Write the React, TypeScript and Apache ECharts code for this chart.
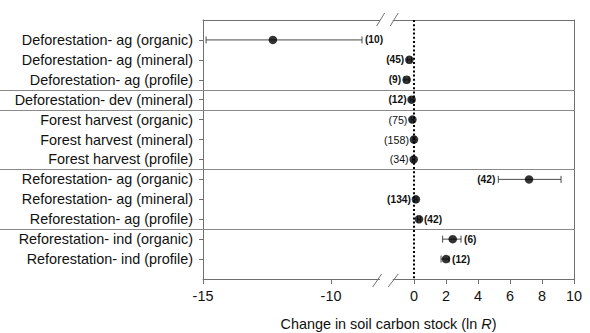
import React, { useEffect, useRef } from "react";
import * as echarts from "echarts";

const categories = [
  "Deforestation- ag (organic)",
  "Deforestation- ag (mineral)",
  "Deforestation- ag (profile)",
  "Deforestation- dev (mineral)",
  "Forest harvest (organic)",
  "Forest harvest (mineral)",
  "Forest harvest (profile)",
  "Reforestation- ag (organic)",
  "Reforestation- ag (mineral)",
  "Reforestation- ag (profile)",
  "Reforestation- ind (organic)",
  "Reforestation- ind (profile)",
];
const means = [-12.27, -0.29, -0.46, -0.15, -0.1, 0.0, -0.02, 7.19, 0.12, 0.31, 2.42, 2.0];
const lower = [-14.88, -0.42, -0.62, -0.24, -0.18, -0.06, -0.09, 5.27, 0.05, 0.22, 1.79, 1.69];
const upper = [-8.79, -0.16, -0.31, -0.06, -0.02, 0.06, 0.05, 9.19, 0.19, 0.4, 2.94, 2.19];
const counts = ["(10)", "(45)", "(9)", "(12)", "(75)", "(158)", "(34)", "(42)", "(134)", "(42)", "(6)", "(12)"];
const boldCount = [true, true, true, true, false, false, false, true, true, true, true, true];
const countSide = ["right", "left", "left", "left", "left", "left", "left", "left", "left", "right", "right", "right"];
const groupBreaks = [3.5, 4.5, 7.5, 10.5];
const leftTicks = [-15, -10];
const rightTicks = [0, 2, 4, 6, 8, 10];
const rowValues = categories.map((_, i) => i + 1);

const LEFT_MIN = -15;
const LEFT_MAX = -8.1;
const RIGHT_MIN = -1.3;
const RIGHT_MAX = 10;
const FONT = "'Liberation Sans', Arial, sans-serif";
const AXIS_COLOR = "#707070";

export default function App() {
  const ref = useRef<HTMLDivElement>(null);
  useEffect(() => {
    if (!ref.current) return;
    const chart = echarts.init(ref.current, undefined, { renderer: "svg" });

    const gridOf = (i: number) => (means[i] < -5 ? 0 : 1);
    const idxs = categories.map((_, i) => i);
    const scatterData = (g: number) =>
      idxs.filter((i) => gridOf(i) === g).map((i) => [means[i], i + 1]);
    const barData = (g: number) =>
      idxs.filter((i) => gridOf(i) === g).map((i) => [lower[i], upper[i], i + 1, i, means[i]]);

    const renderItem = (params: any, api: any) => {
      const lo = api.value(0);
      const hi = api.value(1);
      const row = api.value(2);
      const idx = api.value(3);
      const m = api.value(4);
      const pLo = api.coord([lo, row]);
      const pHi = api.coord([hi, row]);
      const pM = api.coord([m, row]);
      const cap = 3.5;
      const stroke = { stroke: "#4a4a4a", lineWidth: 1 };
      let tx: number;
      let align: string;
      if (countSide[idx] === "left") {
        tx = Math.min(pLo[0] - 3, pM[0] - 5);
        align = "right";
      } else {
        tx = Math.max(pHi[0] + 3, pM[0] + 5);
        align = "left";
      }
      return {
        type: "group",
        children: [
          { type: "line", shape: { x1: pLo[0], y1: pLo[1], x2: pHi[0], y2: pHi[1] }, style: stroke },
          { type: "line", shape: { x1: pLo[0], y1: pLo[1] - cap, x2: pLo[0], y2: pLo[1] + cap }, style: stroke },
          { type: "line", shape: { x1: pHi[0], y1: pHi[1] - cap, x2: pHi[0], y2: pHi[1] + cap }, style: stroke },
          {
            type: "text",
            style: {
              text: counts[idx],
              x: tx,
              y: pM[1],
              align,
              verticalAlign: "middle",
              fontSize: boldCount[idx] ? 10.2 : 10.7,
              fontWeight: boldCount[idx] ? "bold" : "normal",
              fontFamily: FONT,
              fill: "#111",
            },
          },
        ],
      };
    };

    const lineOnly = (gridIndex: number, position: string, min: number, max: number) => ({
      type: "value",
      gridIndex,
      position,
      min,
      max,
      axisLine: { show: true, onZero: false, lineStyle: { color: AXIS_COLOR, width: 1 } },
      axisTick: { show: false },
      axisLabel: { show: false },
      splitLine: { show: false },
    });

    const bottomAxis = (gridIndex: number, min: number, max: number, ticks: number[]) => ({
      type: "value",
      gridIndex,
      position: "bottom",
      min,
      max,
      axisLine: { show: true, onZero: false, lineStyle: { color: AXIS_COLOR, width: 1 } },
      axisTick: { show: true, length: 5, customValues: ticks, lineStyle: { color: AXIS_COLOR } },
      axisLabel: {
        show: true,
        customValues: ticks,
        margin: 10,
        fontSize: 14.4,
        fontFamily: FONT,
        color: "#111",
      },
      splitLine: { show: false },
    });

    chart.setOption({
      animation: false,
      grid: [
        { left: 203, top: 20, width: (LEFT_MAX - LEFT_MIN) * 25.6, height: 259 },
        { left: 414 + RIGHT_MIN * 16, top: 20, width: (RIGHT_MAX - RIGHT_MIN) * 16, height: 259 },
      ],
      xAxis: [
        bottomAxis(0, LEFT_MIN, LEFT_MAX, leftTicks),
        lineOnly(0, "top", LEFT_MIN, LEFT_MAX),
        bottomAxis(1, RIGHT_MIN, RIGHT_MAX, rightTicks),
        lineOnly(1, "top", RIGHT_MIN, RIGHT_MAX),
      ],
      yAxis: [
        {
          type: "value",
          gridIndex: 0,
          position: "left",
          inverse: true,
          min: 0,
          max: categories.length + 1,
          axisLine: { show: true, onZero: false, lineStyle: { color: AXIS_COLOR, width: 1 } },
          axisTick: { show: true, length: 4, customValues: rowValues, lineStyle: { color: AXIS_COLOR } },
          axisLabel: {
            show: true,
            customValues: rowValues,
            formatter: (v: number) => categories[Math.round(v) - 1] ?? "",
            margin: 10,
            fontSize: 14.4,
            fontFamily: FONT,
            color: "#111",
          },
          splitLine: { show: false },
        },
        {
          ...lineOnly(1, "right", 0, categories.length + 1),
          inverse: true,
        },
      ],
      series: [
        {
          type: "custom",
          xAxisIndex: 0,
          yAxisIndex: 0,
          renderItem,
          encode: { x: [0, 1], y: 2 },
          data: barData(0),
          z: 3,
          silent: true,
        },
        {
          type: "custom",
          xAxisIndex: 2,
          yAxisIndex: 1,
          renderItem,
          encode: { x: [0, 1], y: 2 },
          data: barData(1),
          z: 3,
          silent: true,
          markLine: {
            silent: true,
            symbol: ["none", "none"],
            label: { show: false },
            lineStyle: { color: "#000", type: [2, 2.2], width: 2 },
            data: [{ xAxis: 0 }],
          },
        },
        {
          type: "scatter",
          xAxisIndex: 0,
          yAxisIndex: 0,
          symbol: "circle",
          symbolSize: 8.5,
          itemStyle: { color: "#000" },
          data: scatterData(0),
          z: 5,
          silent: true,
        },
        {
          type: "scatter",
          xAxisIndex: 2,
          yAxisIndex: 1,
          symbol: "circle",
          symbolSize: 8.5,
          itemStyle: { color: "#000" },
          data: scatterData(1),
          z: 5,
          silent: true,
        },
      ],
    });

    const leftEnd = chart.convertToPixel({ xAxisIndex: 0 }, LEFT_MAX) as number;
    const rightStart = chart.convertToPixel({ xAxisIndex: 2 }, RIGHT_MIN) as number;
    const xLeft = chart.convertToPixel({ xAxisIndex: 0 }, LEFT_MIN) as number;
    const xRight = chart.convertToPixel({ xAxisIndex: 2 }, RIGHT_MAX) as number;
    const yTop = chart.convertToPixel({ yAxisIndex: 0 }, 0) as number;
    const yBot = chart.convertToPixel({ yAxisIndex: 0 }, categories.length + 1) as number;

    const slash = (x1: number, y1: number, x2: number, y2: number) => ({
      type: "line",
      shape: { x1, y1, x2, y2 },
      style: { stroke: AXIS_COLOR, lineWidth: 1 },
      z: 10,
      silent: true,
    });

    const seps = groupBreaks.map((b) => {
      const y = Math.round(chart.convertToPixel({ yAxisIndex: 0 }, b) as number) + 0.5;
      return {
        type: "line",
        shape: { x1: 0, y1: y, x2: xRight + 1, y2: y },
        style: { stroke: "#8a8a8a", lineWidth: 1 },
        z: 1,
        silent: true,
      };
    });

    chart.setOption({
      graphic: [
        ...seps,
        slash(leftEnd - 7, yBot + 8, leftEnd + 2, yBot - 5),
        slash(rightStart - 5, yBot + 8, rightStart + 5, yBot - 5),
        slash(leftEnd - 3, yTop + 6, leftEnd + 5, yTop - 7),
        slash(rightStart - 3, yTop + 6, rightStart + 5, yTop - 7),
        {
          type: "text",
          z: 10,
          silent: true,
          style: {
            text: "{a|Change in soil carbon stock (ln }{b|R}{a|)}",
            x: (xLeft + xRight) / 2,
            y: 324,
            align: "center",
            verticalAlign: "middle",
            rich: {
              a: { fontSize: 14.4, fontFamily: FONT, fill: "#111" },
              b: { fontSize: 14.4, fontFamily: FONT, fill: "#111", fontStyle: "italic" },
            },
          },
        },
      ],
    });

    return () => chart.dispose();
  }, []);

  return (
    <div
      ref={ref}
      style={{ position: "fixed", left: 0, top: 0, width: 590, height: 333, background: "#fff" }}
    />
  );
}
